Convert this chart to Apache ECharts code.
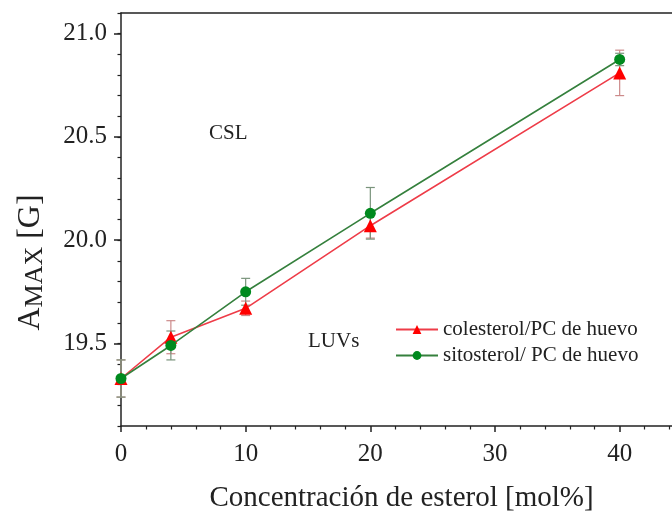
<!DOCTYPE html>
<html>
<head>
<meta charset="utf-8">
<script src="https://cdn.jsdelivr.net/npm/echarts@6/dist/echarts.min.js"></script>
<style>html,body{margin:0;padding:0;background:#fff}#c{width:672px;height:512px}</style>
</head>
<body>
<div id="c"></div>
<script>
const xValues = [0, 4, 10, 20, 40];
const colesterol = [19.33, 19.53, 19.67, 20.07, 20.81];
const colesterolErr = [0.09, 0.08, 0.035, 0.06, 0.11];
const sitosterol = [19.33, 19.49, 19.75, 20.13, 20.875];
const sitosterolErr = [0.09, 0.07, 0.065, 0.125, 0.03];
const yTickLabels = [19.5, 20.0, 20.5, 21.0];
const seriesNames = ['colesterol/PC de huevo', 'sitosterol/ PC de huevo'];

const FONT = '"Liberation Serif", "DejaVu Serif", serif';
const RED = '#ff0000', RED_LINE = '#ee3c48', RED_ERR = '#cc8a8a';
const GREEN = '#008a1e', GREEN_LINE = '#35803d', GREEN_ERR = '#7a947c';

function pairs(ys) { return xValues.map((x, i) => [x, ys[i]]); }
function errData(ys, es) { return xValues.map((x, i) => [x, ys[i] - es[i], ys[i] + es[i]]); }

function errSeries(ys, es, color) {
  return {
    type: 'custom',
    silent: true,
    z: 1,
    data: errData(ys, es),
    renderItem: function (params, api) {
      const x = api.value(0);
      const lo = api.coord([x, api.value(1)]);
      const hi = api.coord([x, api.value(2)]);
      const w = 4.5;
      const st = { stroke: color, lineWidth: 1.2 };
      return {
        type: 'group',
        children: [
          { type: 'line', shape: { x1: lo[0], y1: lo[1], x2: hi[0], y2: hi[1] }, style: st },
          { type: 'line', shape: { x1: lo[0] - w, y1: lo[1], x2: lo[0] + w, y2: lo[1] }, style: st },
          { type: 'line', shape: { x1: hi[0] - w, y1: hi[1], x2: hi[0] + w, y2: hi[1] }, style: st }
        ]
      };
    }
  };
}

const chart = echarts.init(document.getElementById('c'), null, { renderer: 'canvas' });
chart.setOption({
  animation: false,
  backgroundColor: '#fff',
  textStyle: { fontFamily: FONT },
  grid: { left: 121, width: 561, top: 13, height: 413, containLabel: false, outerBoundsMode: 'none' },
  xAxis: [{
    type: 'value', min: 0, max: 45, interval: 10,
    axisLine: { lineStyle: { color: '#222', width: 1.5 } },
    axisTick: { inside: false, length: 6, lineStyle: { color: '#222', width: 1.5 } },
    minorTick: { show: true, splitNumber: 5, length: 3.5, lineStyle: { color: '#222', width: 1.2 } },
    splitLine: { show: false },
    axisLabel: { fontFamily: FONT, fontSize: 25, color: '#222', margin: 16, showMaxLabel: false },
    name: 'Concentración de esterol [mol%]',
    nameLocation: 'middle', nameGap: 58,
    nameTextStyle: { fontFamily: FONT, fontSize: 29, color: '#222' }
  }, {
    type: 'value', min: 0, max: 45, position: 'top',
    axisLine: { show: true, lineStyle: { color: '#222', width: 1.5 } },
    axisTick: { show: false }, axisLabel: { show: false }, splitLine: { show: false }
  }],
  yAxis: [{
    type: 'value', min: 19.1, max: 21.1,
    axisLine: { show: true, lineStyle: { color: '#222', width: 1.5 } },
    axisTick: { show: true, inside: false, length: 7, customValues: yTickLabels, lineStyle: { color: '#222', width: 1.5 } },
    splitLine: { show: false },
    axisLabel: { fontFamily: FONT, fontSize: 25, color: '#222', margin: 14, customValues: yTickLabels,
      formatter: v => v.toFixed(1) },
    name: '{a|A}{s|MAX}{a| [G]}',
    nameLocation: 'middle', nameGap: 73, nameRotate: 90,
    nameTextStyle: {
      padding: [0, 86, 0, 0],
      rich: {
        a: { fontFamily: FONT, fontSize: 32, color: '#222' },
        s: { fontFamily: FONT, fontSize: 26, color: '#222', padding: [8, 0, 0, 0] }
      }
    }
  }, {
    type: 'value', min: 19.1, max: 21.1, interval: 0.1, position: 'left',
    axisLine: { show: false },
    axisTick: { show: true, inside: false, length: 3.5, lineStyle: { color: '#222', width: 1.2 } },
    axisLabel: { show: false }, splitLine: { show: false }
  }],
  legend: {
    orient: 'vertical', left: 390, top: 314,
    itemWidth: 42, itemHeight: 11, itemGap: 5,
    textStyle: { fontFamily: FONT, fontSize: 21, color: '#222' },
    data: seriesNames
  },
  graphic: [
    { type: 'text', left: 209, top: 123, style: { text: 'CSL', font: '21px ' + FONT, fill: '#222' } },
    { type: 'text', left: 308, top: 331, style: { text: 'LUVs', font: '21px ' + FONT, fill: '#222' } }
  ],
  series: [
    errSeries(colesterol, colesterolErr, RED_ERR),
    errSeries(sitosterol, sitosterolErr, GREEN_ERR),
    {
      name: seriesNames[0], type: 'line', data: pairs(colesterol), z: 3,
      symbol: 'triangle', symbolSize: 13,
      lineStyle: { color: RED_LINE, width: 1.6 },
      itemStyle: { color: RED }
    },
    {
      name: seriesNames[1], type: 'line', data: pairs(sitosterol), z: 4,
      symbol: 'circle', symbolSize: 11,
      lineStyle: { color: GREEN_LINE, width: 1.6 },
      itemStyle: { color: GREEN }
    }
  ]
});
</script>
</body>
</html>
